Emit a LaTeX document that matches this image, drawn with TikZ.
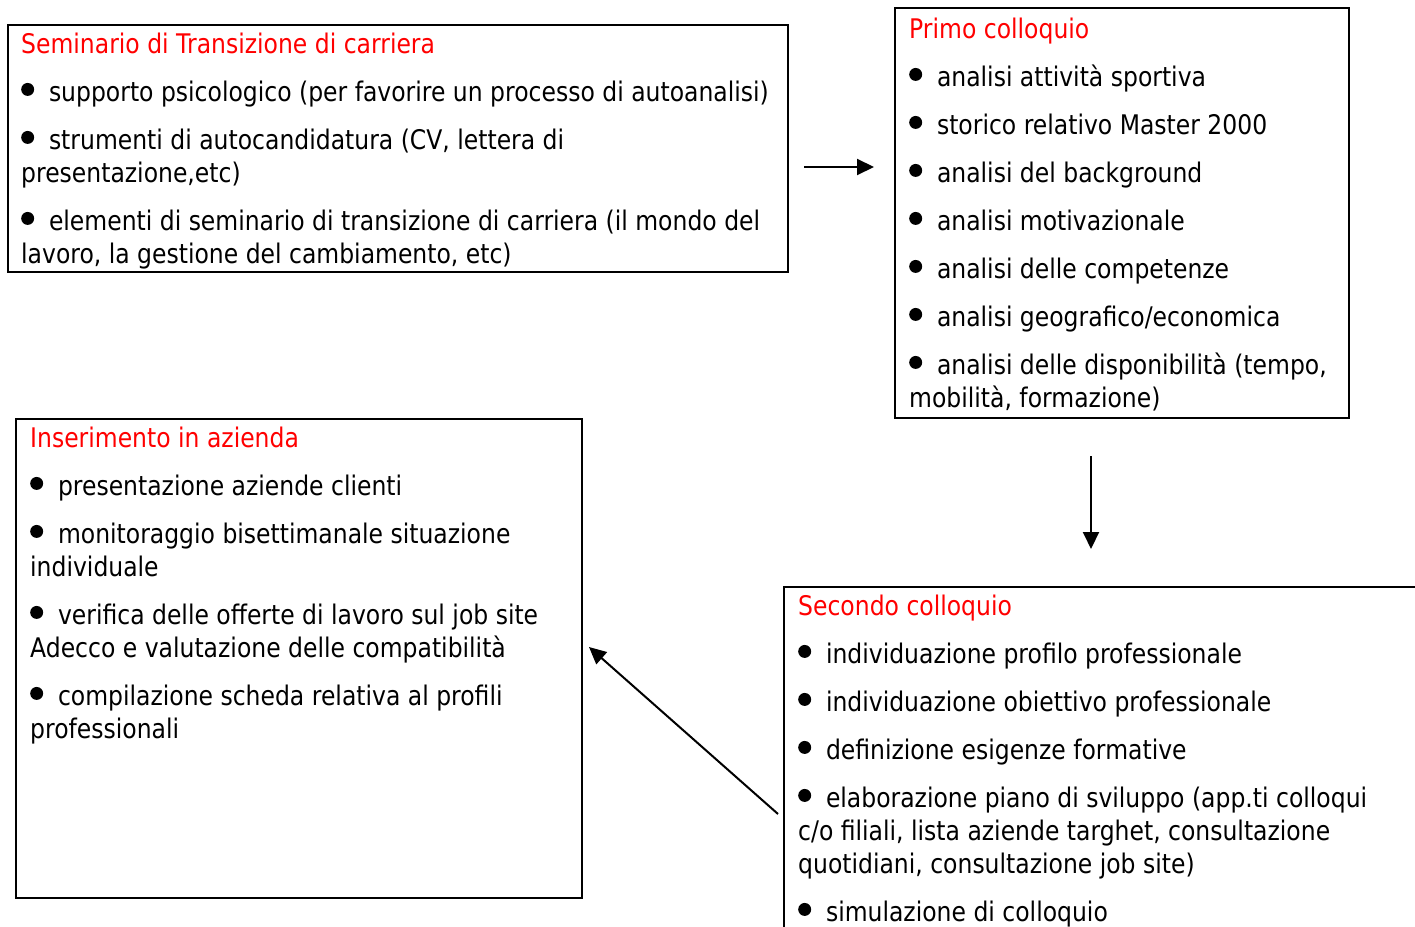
\documentclass[tikz,border=0pt]{standalone}
\usepackage{fontspec}
\setmainfont{DejaVu Sans}[FakeStretch=0.87]
\usetikzlibrary{arrows.meta,positioning}
\definecolor{titlered}{rgb}{1,0,0}
\newcommand{\pallino}{\tikz[baseline=-0.2em]\fill (0,0.24em) circle (0.24em);\hspace{0.55em}}
\newcommand{\titolo}[1]{\strut{\color{titlered}#1}}

\begin{document}
\begin{tikzpicture}[x=1pt,y=-1pt,->,>={Triangle[length=17pt,width=16pt]},line width=2pt,
                    fase/.style={draw,line width=2pt,rectangle,inner sep=0pt},
                    testo/.style={anchor=north west,align=left,inner sep=0pt,
                                  font=\fontsize{27}{33}\selectfont},
                ]

  \path[use as bounding box,clip] (0,0) rectangle (1415,926);

  \node[fase,minimum width=780,minimum height=247] (sem)    at (398,148.5)  {};
  \node[fase,minimum width=454,minimum height=410] (primo)  at (1122,213)   {};
  \node[fase,minimum width=566,minimum height=479] (inser)  at (299,658.5)  {};
  \node[fase,minimum width=716,minimum height=413] (second) at (1142,793.5) {};

  \node[testo] (tsem) at ([shift={(14,6)}]sem.north west)
    {\titolo{Seminario di Transizione di carriera}\\[15pt]
     \pallino supporto psicologico (per favorire un processo di autoanalisi)\\[15pt]
     \pallino strumenti di autocandidatura (CV, lettera di\\ presentazione,etc)\\[15pt]
     \pallino elementi di seminario di transizione di carriera (il mondo del\\ lavoro, la gestione del cambiamento, etc)};
  \node[testo] (tprimo) at ([shift={(15,8)}]primo.north west)
    {\titolo{Primo colloquio}\\[15pt]
     \pallino analisi attività sportiva\\[15pt]
     \pallino storico relativo Master 2000\\[15pt]
     \pallino analisi del background\\[15pt]
     \pallino analisi motivazionale\\[15pt]
     \pallino analisi delle competenze\\[15pt]
     \pallino analisi geografico/economica\\[15pt]
     \pallino analisi delle disponibilità (tempo,\\ mobilità, formazione)};
  \node[testo] (tinser) at ([shift={(15,6)}]inser.north west)
    {\titolo{Inserimento in azienda}\\[15pt]
     \pallino presentazione aziende clienti\\[15pt]
     \pallino monitoraggio bisettimanale situazione\\ individuale\\[15pt]
     \pallino verifica delle offerte di lavoro sul job site\\ Adecco e valutazione delle compatibilità\\[15pt]
     \pallino compilazione scheda relativa al profili\\ professionali};
  \node[testo] (tsecond) at ([shift={(15,6)}]second.north west)
    {\titolo{Secondo colloquio}\\[15pt]
     \pallino individuazione profilo professionale\\[15pt]
     \pallino individuazione obiettivo professionale\\[15pt]
     \pallino definizione esigenze formative\\[15pt]
     \pallino elaborazione piano di sviluppo (app.ti colloqui\\ c/o filiali, lista aziende targhet, consultazione\\ quotidiani, consultazione job site)\\[15pt]
     \pallino simulazione di colloquio};

  % connectors
  \coordinate (a1) at ([shift={(15,18.5)}]sem.east);
  \coordinate (a2) at ([shift={(-31,37)}]primo.south);
  \coordinate (a3) at ([shift={(-5,228)}]second.north west);
  \coordinate (a4) at ([shift={(6,229)}]inser.north east);

  \draw[shorten >=20pt] (a1) -- (a1 -| primo.west);
  \draw[shorten >=37pt] (a2) -- (a2 |- second.north);
  \draw (a3) -- (a4);
\end{tikzpicture}
\end{document}
